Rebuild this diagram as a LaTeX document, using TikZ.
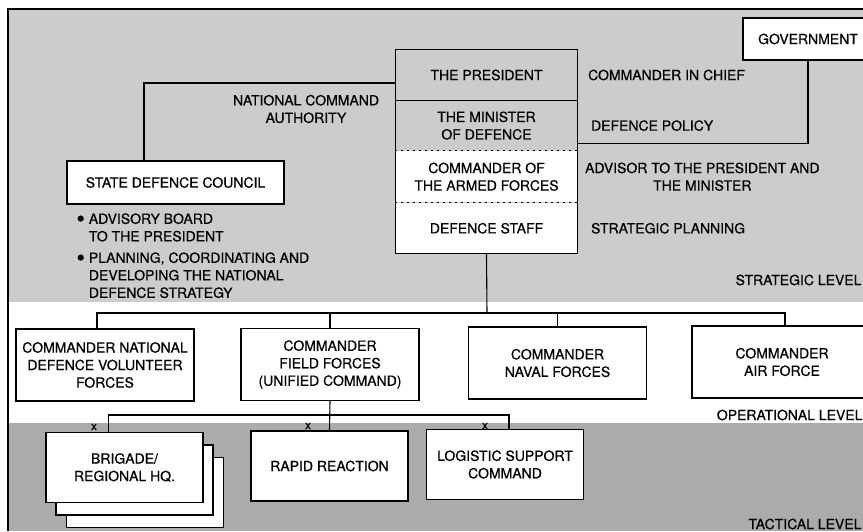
\documentclass[tikz,border=0pt]{standalone}
\usepackage{fontspec}
\setmainfont{TeX Gyre Heros}[FakeBold=0.6]
\usetikzlibrary{positioning}
\begin{document}
\begin{tikzpicture}[x=1pt, y=-1pt, line width=1.1pt,
    font=\fontsize{14}{17.5}\selectfont,
    box/.style={draw, fill=white, align=center, inner sep=0pt},
    opbox/.style={box, minimum width=178pt, minimum height=72pt},
    unitbox/.style={box, minimum width=157pt, minimum height=70pt},
    part/.style={align=center, inner sep=0pt, minimum width=181pt},
    lbl/.style={align=center, inner sep=0pt},
    lvl/.style={anchor=east, inner sep=0pt},
    xmark/.style={inner sep=0pt, font=\fontsize{12}{12}\selectfont},
    dotline/.style={line width=0.9pt, dash pattern=on 2pt off 4pt}]
    \useasboundingbox (0,0) rectangle (863,531);
    \fill[black!20] (8,9) rectangle (863,302);
    \fill[black!33] (8,423) rectangle (863,531);
    \draw (863,9) -- (8,9) -- (8,531);

    \node[box, minimum width=130pt, minimum height=42pt] (gov) at (808,39) {GOVERNMENT};
    \node[part, minimum height=50pt] (pres) at (486.5,75) {THE PRESIDENT};
    \node[part, minimum height=49pt, below=0pt of pres] (minis) {THE MINISTER\\OF DEFENCE};
    \node[part, fill=white, minimum height=51pt, below=0pt of minis] (cmdaf) {COMMANDER OF\\THE ARMED FORCES};
    \node[part, fill=white, minimum height=50pt, below=0pt of cmdaf] (staff) {DEFENCE STAFF};
    \draw (pres.north west) rectangle (staff.south east);
    \draw (pres.south west) -- (pres.south east);
    \draw[dotline] (minis.south west) -- (minis.south east);
    \draw[dotline] (cmdaf.south west) -- (cmdaf.south east);

    \node[lbl, right=10pt of pres] (cic) {COMMANDER IN CHIEF};
    \node[lbl, right=13pt of minis] (policy) {DEFENCE POLICY};
    \node[lbl, right=7pt of cmdaf] (advisor) {ADVISOR TO THE PRESIDENT AND\\THE MINISTER};
    \node[lbl, right=13pt of staff] (planning) {STRATEGIC PLANNING};

    \node[box, minimum width=217pt, minimum height=43pt] (sdc) at (175.5,182.5) {STATE DEFENCE COUNCIL};
    \node[lbl] (nca) at (306,109) {NATIONAL COMMAND\\AUTHORITY};
    \node[inner sep=0pt, anchor=north west] (notes) at (76,211) {\begin{tabular}{@{}l@{\hspace{4pt}}l@{}}
        \raisebox{-3pt}{\scalebox{1.7}{\textbullet}} & ADVISORY BOARD\\
                    & TO THE PRESIDENT\\[4pt]
        \raisebox{-3pt}{\scalebox{1.7}{\textbullet}} & PLANNING, COORDINATING AND\\
                    & DEVELOPING THE NATIONAL\\
                    & DEFENCE STRATEGY
      \end{tabular}};

    \node[opbox] (cndvf) at (105,365) {COMMANDER NATIONAL\\DEFENCE VOLUNTEER\\FORCES};
    \node[opbox] (cff) at (330,364.5) {COMMANDER\\FIELD FORCES\\(UNIFIED COMMAND)};
    \node[opbox] (cnf) at (557.5,363) {COMMANDER\\NAVAL FORCES};
    \node[opbox, minimum width=180pt] (caf) at (782,362) {COMMANDER\\AIR FORCE};

    \node[unitbox] (brig3) at (145,492.5) {};
    \node[unitbox] (brig2) at (134.5,480) {};
    \node[unitbox] (brig) at (124.5,467.5) {BRIGADE/\\REGIONAL HQ.};
    \node[unitbox] (rr) at (329.5,466) {RAPID REACTION};
    \node[unitbox] (lsc) at (505,464.5) {LOGISTIC SUPPORT\\COMMAND};

    \node[xmark] (x1) at (94,427) {x};
    \node[xmark] (x2) at (308,426) {x};
    \node[xmark] (x3) at (485,426) {x};

    \node[lvl] (strat) at (862,280) {STRATEGIC LEVEL};
    \node[lvl] (oper) at (863,415) {OPERATIONAL LEVEL};
    \node[lvl] (tact) at (862,524) {TACTICAL LEVEL};

    \coordinate (obus) at (487,313);
    \coordinate (tbus) at (330,415);
    \draw ([yshift=-8pt]pres.west) -| ([xshift=-31.5pt]sdc.north);
    \draw (gov.south) |- ([yshift=-18pt]minis.east);
    \draw (staff.south) -- (obus);
    \draw ([xshift=-8pt]cndvf.north) |- (obus) -| ([xshift=3pt]caf.north);
    \draw (cff.north) -- (cff.north |- obus);
    \draw (cnf.north) -- (cnf.north |- obus);
    \draw (cff.south) -- (rr.north);
    \draw ([xshift=-16pt]brig.north) |- (tbus) -| ([xshift=4pt]lsc.north);
\end{tikzpicture}
\end{document}
